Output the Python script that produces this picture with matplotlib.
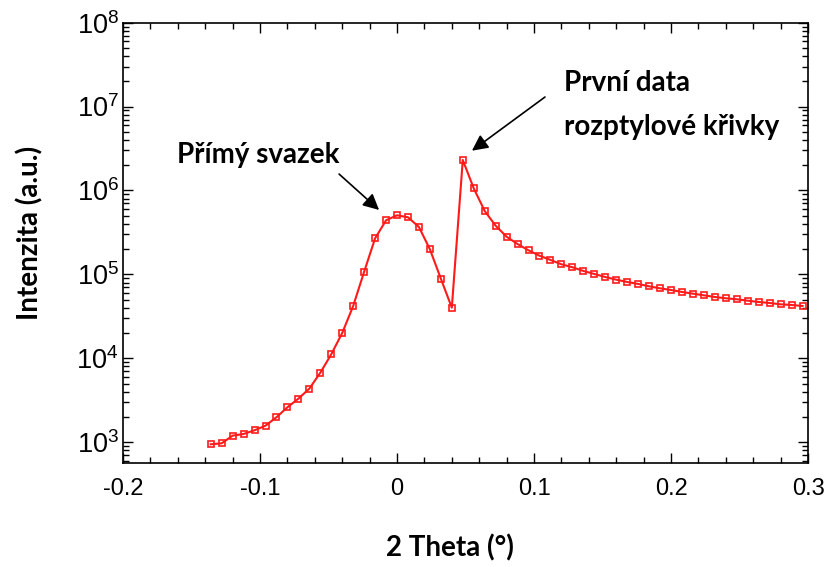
import numpy as np
import matplotlib
matplotlib.use("Agg")
import matplotlib.pyplot as plt
from matplotlib.ticker import FixedLocator, LogLocator, NullFormatter

# scan data: 2 theta (deg) and intensity (a.u.)
theta_direct = [-0.136, -0.128, -0.120, -0.112, -0.104, -0.096, -0.088, -0.080,
                -0.072, -0.064, -0.056, -0.048, -0.040, -0.032, -0.024, -0.016,
                -0.008, 0.000, 0.008, 0.016, 0.024, 0.032, 0.040]
int_direct = [944, 970, 1197, 1253, 1387, 1574, 1983, 2608,
              3302, 4345, 6730, 11160, 20040, 42010, 107600, 269000,
              441600, 506000, 479600, 367000, 199000, 88900, 40100]

theta_scatter = [0.048, 0.056, 0.064, 0.072, 0.080, 0.088, 0.096, 0.104, 0.112,
                 0.120, 0.128, 0.136, 0.144, 0.152, 0.160, 0.168, 0.176, 0.184,
                 0.192, 0.200, 0.208, 0.216, 0.224, 0.232, 0.240, 0.248, 0.256,
                 0.264, 0.272, 0.280, 0.288, 0.296]
int_scatter = [2310000, 1060000, 570000, 380000, 281000, 230000, 193500, 167000,
               148600, 131900, 121600, 109900, 101100, 93100, 86500, 81200, 76900,
               72100, 68200, 65200, 61700, 58900, 56300, 53800, 51900, 50500,
               48600, 46900, 45600, 44000, 43200, 42000]

x_ticks = [-0.2, -0.1, 0, 0.1, 0.2, 0.3]
x_tick_labels = ["-0.2", "-0.1", "0", "0.1", "0.2", "0.3"]

label_x = "2 Theta (°)"
label_y = "Intenzita (a.u.)"
note_direct = "Přímý svazek"
note_scatter = ["První data", "rozptylové křivky"]

plt.rcParams["font.family"] = ["Liberation Sans", "DejaVu Sans"]
plt.rcParams["mathtext.default"] = "regular"

fig = plt.figure(figsize=(8.33, 5.67), dpi=100)
ax = fig.add_axes([0.1477, 0.184, 0.8223, 0.776])

theta = theta_direct + theta_scatter
intensity = int_direct + int_scatter
ax.plot(theta, intensity, color="#ff1a1a", lw=1.5, marker="s", ms=4.2,
        mfc="none", mec="#ff1a1a", mew=1.2)

ax.set_yscale("log")
ax.set_xlim(-0.2, 0.3)
ax.set_ylim(570, 1e8)

ax.xaxis.set_major_locator(FixedLocator(x_ticks))
ax.set_xticklabels(x_tick_labels)
ax.xaxis.set_minor_locator(FixedLocator(np.arange(-0.2, 0.301, 0.02)))
ax.yaxis.set_major_locator(LogLocator(base=10, numticks=10))
ax.yaxis.set_minor_locator(LogLocator(base=10, subs=np.arange(2, 10), numticks=20))
ax.yaxis.set_minor_formatter(NullFormatter())

ax.tick_params(which="both", direction="in", top=True, right=True, width=1.0)
ax.tick_params(which="major", length=7, labelsize=17, pad=11)
ax.tick_params(axis="y", which="major", labelsize=19.5, pad=3)
ax.tick_params(which="minor", length=4)
for sp in ax.spines.values():
    sp.set_linewidth(1.2)

lab_font = dict(family=["Lato", "DejaVu Sans"], fontweight="bold", fontsize=20)
fig.text(450 / 833, 1 - 548 / 567, label_x, ha="center", va="center", **lab_font)
fig.text(30 / 833, 1 - 233 / 567, label_y, ha="center", va="center",
         rotation=90, **lab_font)

# arrows and notes
arrow = dict(arrowstyle="-|>", mutation_scale=24, lw=1.2, color="black",
             shrinkA=0, shrinkB=0)
ax.annotate("", xy=(-0.0131, 5.86e5), xytext=(-0.0423, 1.57e6), arrowprops=arrow)
ax.annotate("", xy=(0.0547, 2.98e6), xytext=(0.108, 1.30e7), arrowprops=arrow)

ax.text(-0.1015, 2.65e6, note_direct, ha="center", va="center", **lab_font)
ax.text(0.1219, 10 ** (8 - (83 - 22.7) / 83.9), note_scatter[0], ha="left",
        va="center", **lab_font)
ax.text(0.1219, 10 ** (8 - (127 - 22.7) / 83.9), note_scatter[1], ha="left",
        va="center", **lab_font)

fig.savefig("out.png", dpi=100)
